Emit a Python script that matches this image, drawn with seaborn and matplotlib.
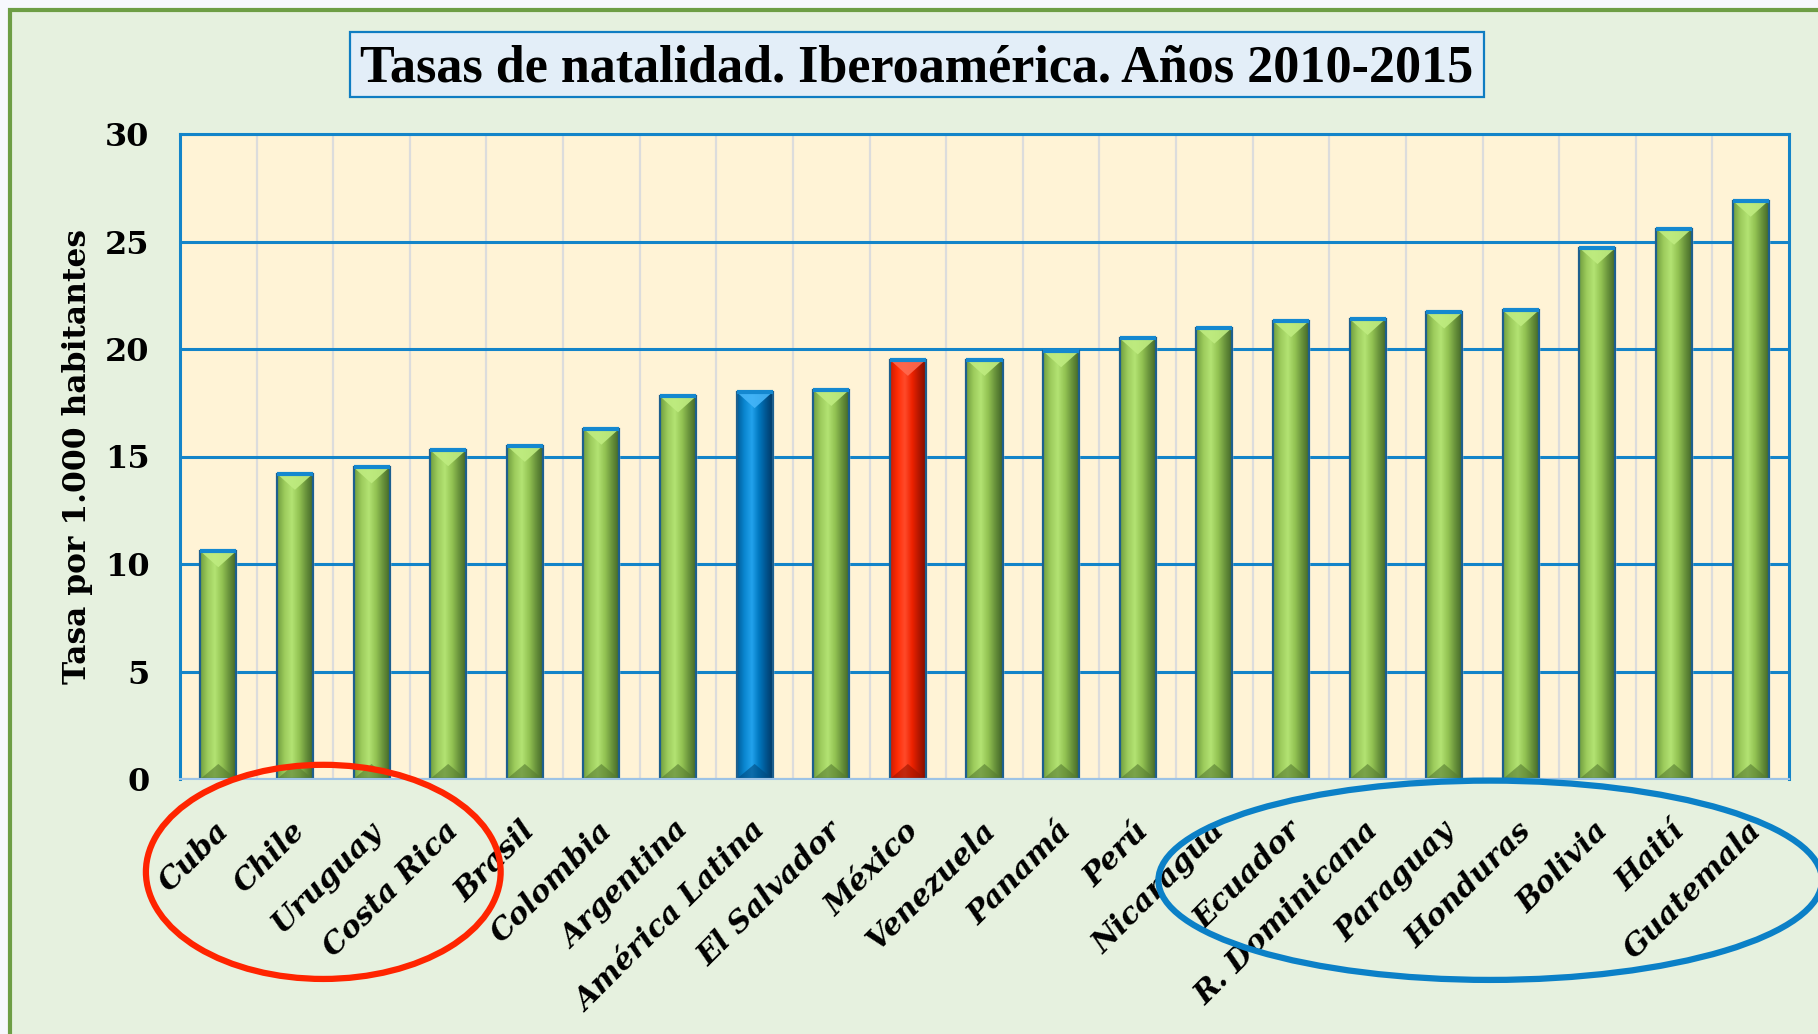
import numpy as np
import seaborn as sns
import matplotlib.pyplot as plt
import matplotlib.transforms as mtransforms
from matplotlib.colors import LinearSegmentedColormap
from matplotlib.patches import Rectangle, Ellipse, Polygon

# datos
paises = ['Cuba', 'Chile', 'Uruguay', 'Costa Rica', 'Brasil', 'Colombia', 'Argentina',
          'América Latina', 'El Salvador', 'México', 'Venezuela', 'Panamá', 'Perú',
          'Nicaragua', 'Ecuador', 'R. Dominicana', 'Paraguay', 'Honduras', 'Bolivia',
          'Haití', 'Guatemala']
tasas = [10.6, 14.2, 14.5, 15.3, 15.5, 16.3, 17.8, 18.0, 18.1, 19.5, 19.5, 19.9, 20.5,
         21.0, 21.3, 21.4, 21.7, 21.8, 24.7, 25.6, 26.9]
grupos = ['país'] * 7 + ['región'] + ['país'] + ['México'] + ['país'] * 11
titulo = 'Tasas de natalidad. Iberoamérica. Años 2010-2015'
etiqueta_y = 'Tasa por 1.000 habitantes'

paleta = {'país': '#8DBE4F', 'región': '#0A80C8', 'México': '#FF2400'}
degradados = {
    'país': ['#6F9C3E', '#9CCB5C', '#B3E373', '#93C353', '#66903A', '#3F6227'],
    'región': ['#005C99', '#0A86D0', '#22A2EC', '#0077BF', '#00538D', '#003560'],
    'México': ['#CC1A00', '#FF2C05', '#FF4A2A', '#EE2200', '#B01600', '#7A0E00'],
}
puntas = {'país': '#BFEC80', 'región': '#45B5F8', 'México': '#FF6A50'}
bases = {'país': '#557A30', 'región': '#004A80', 'México': '#9A1400'}

sns.set_style('white')
plt.rcParams['font.family'] = ['DejaVu Serif', 'DejaVu Sans']
plt.rcParams['text.color'] = 'black'
plt.rcParams['xtick.color'] = 'black'
plt.rcParams['ytick.color'] = 'black'
plt.rcParams['axes.labelcolor'] = 'black'

fig = plt.figure(figsize=(18.18, 10.34), dpi=100)
fig.patch.set_facecolor('#F7F8FD')
fig.patches.append(Rectangle((10 / 1818, -0.02), 1.0, 1.02 - 10 / 1034,
                             transform=fig.transFigure, facecolor='#E6F1DF',
                             edgecolor='#6E9E45', lw=3, zorder=-10))

ax = fig.add_axes([180 / 1818, 1 - 779 / 1034, 1609 / 1818, 645 / 1034])
ax.set_facecolor('#FFF3D6')

sns.barplot(x=paises, y=tasas, hue=grupos, palette=paleta, dodge=False, width=0.47,
            legend=False, saturation=1, ax=ax)

grad = np.linspace(0, 1, 128).reshape(1, -1)
for barra in list(ax.patches):
    x, w, h = barra.get_x(), barra.get_width(), barra.get_height()
    if h <= 0:
        continue
    g = grupos[int(round(x + w / 2))]
    cmap = LinearSegmentedColormap.from_list('b_' + g, degradados[g])
    img = ax.imshow(grad, cmap=cmap, extent=[x, x + w, 0, h], aspect='auto',
                    interpolation='bilinear', zorder=2)
    img.set_clip_path(barra)
    ax.add_patch(Polygon([[x, h], [x + w, h], [x + w / 2, h - 0.75]], closed=True,
                         facecolor=puntas[g], edgecolor='none', alpha=0.9, zorder=2.1))
    ax.add_patch(Polygon([[x, 0], [x + w, 0], [x + w / 2, 0.7]], closed=True,
                         facecolor=bases[g], edgecolor='none', alpha=0.6, zorder=2.1))
    ax.add_patch(Rectangle((x, 0), w, h, fill=False, edgecolor='#1D5F8E', lw=1.6, zorder=2.2))
    ax.plot([x, x + w], [h, h], color='#1488D0', lw=3, solid_capstyle='butt', zorder=2.3)

ax.set_xlim(-0.5, len(paises) - 0.5)
ax.set_ylim(0, 30)
ax.set_yticks(range(0, 31, 5))
ax.set_axisbelow(True)
ax.yaxis.grid(True, color='#1384C9', lw=2.2)
ax.set_xticks(np.arange(0.5, len(paises) - 1, 1), minor=True)
ax.xaxis.grid(True, which='minor', color='#DCDCDC', lw=1.6)
ax.xaxis.grid(False, which='major')
ax.tick_params(axis='both', which='both', length=0)
ax.tick_params(axis='y', pad=22)
ax.tick_params(axis='x', pad=34)

for s in ['left', 'top', 'right']:
    ax.spines[s].set_color('#1384C9')
    ax.spines[s].set_linewidth(2.2)
ax.spines['bottom'].set_color('#9DC3E6')
ax.spines['bottom'].set_linewidth(1.5)

for t in ax.get_yticklabels():
    t.set_fontsize(23)
    t.set_fontweight('bold')
ax.set_xticks(range(len(paises)))
ax.set_xticklabels(paises, rotation=45, ha='right', va='center', rotation_mode='anchor',
                   fontsize=21.5, fontweight='bold', fontstyle='italic')
desplaza = mtransforms.ScaledTranslation(6 / 100, 0, fig.dpi_scale_trans)
for t in ax.get_xticklabels():
    t.set_transform(t.get_transform() + desplaza)

ax.set_xlabel('')
ax.set_ylabel(etiqueta_y, fontsize=22.5, fontweight='bold')
ax.yaxis.set_label_coords(-0.054, 0.5)

mezcla = mtransforms.blended_transform_factory(ax.transData, ax.transAxes)
ax.add_patch(Ellipse((1.37, -0.144), 4.63, 0.332, transform=mezcla, fill=False,
                     edgecolor='#FF2400', lw=4.5, clip_on=False, zorder=5))
ax.add_patch(Ellipse((16.6, -0.157), 8.66, 0.309, transform=mezcla, fill=False,
                     edgecolor='#0B80C7', lw=4.5, clip_on=False, zorder=5))

fig.patches.append(Rectangle((350 / 1818, 1 - 97 / 1034), 1134 / 1818, 65 / 1034,
                             transform=fig.transFigure, facecolor='#E3EEF8',
                             edgecolor='#0F7DC2', lw=1.6, zorder=1))
fig.text(917 / 1818, 1 - 68 / 1034, titulo, ha='center', va='center', fontsize=37.5,
         fontweight='bold', family=['Liberation Serif', 'DejaVu Serif'], zorder=2)

fig.savefig('out.png', dpi=100, facecolor=fig.get_facecolor())
